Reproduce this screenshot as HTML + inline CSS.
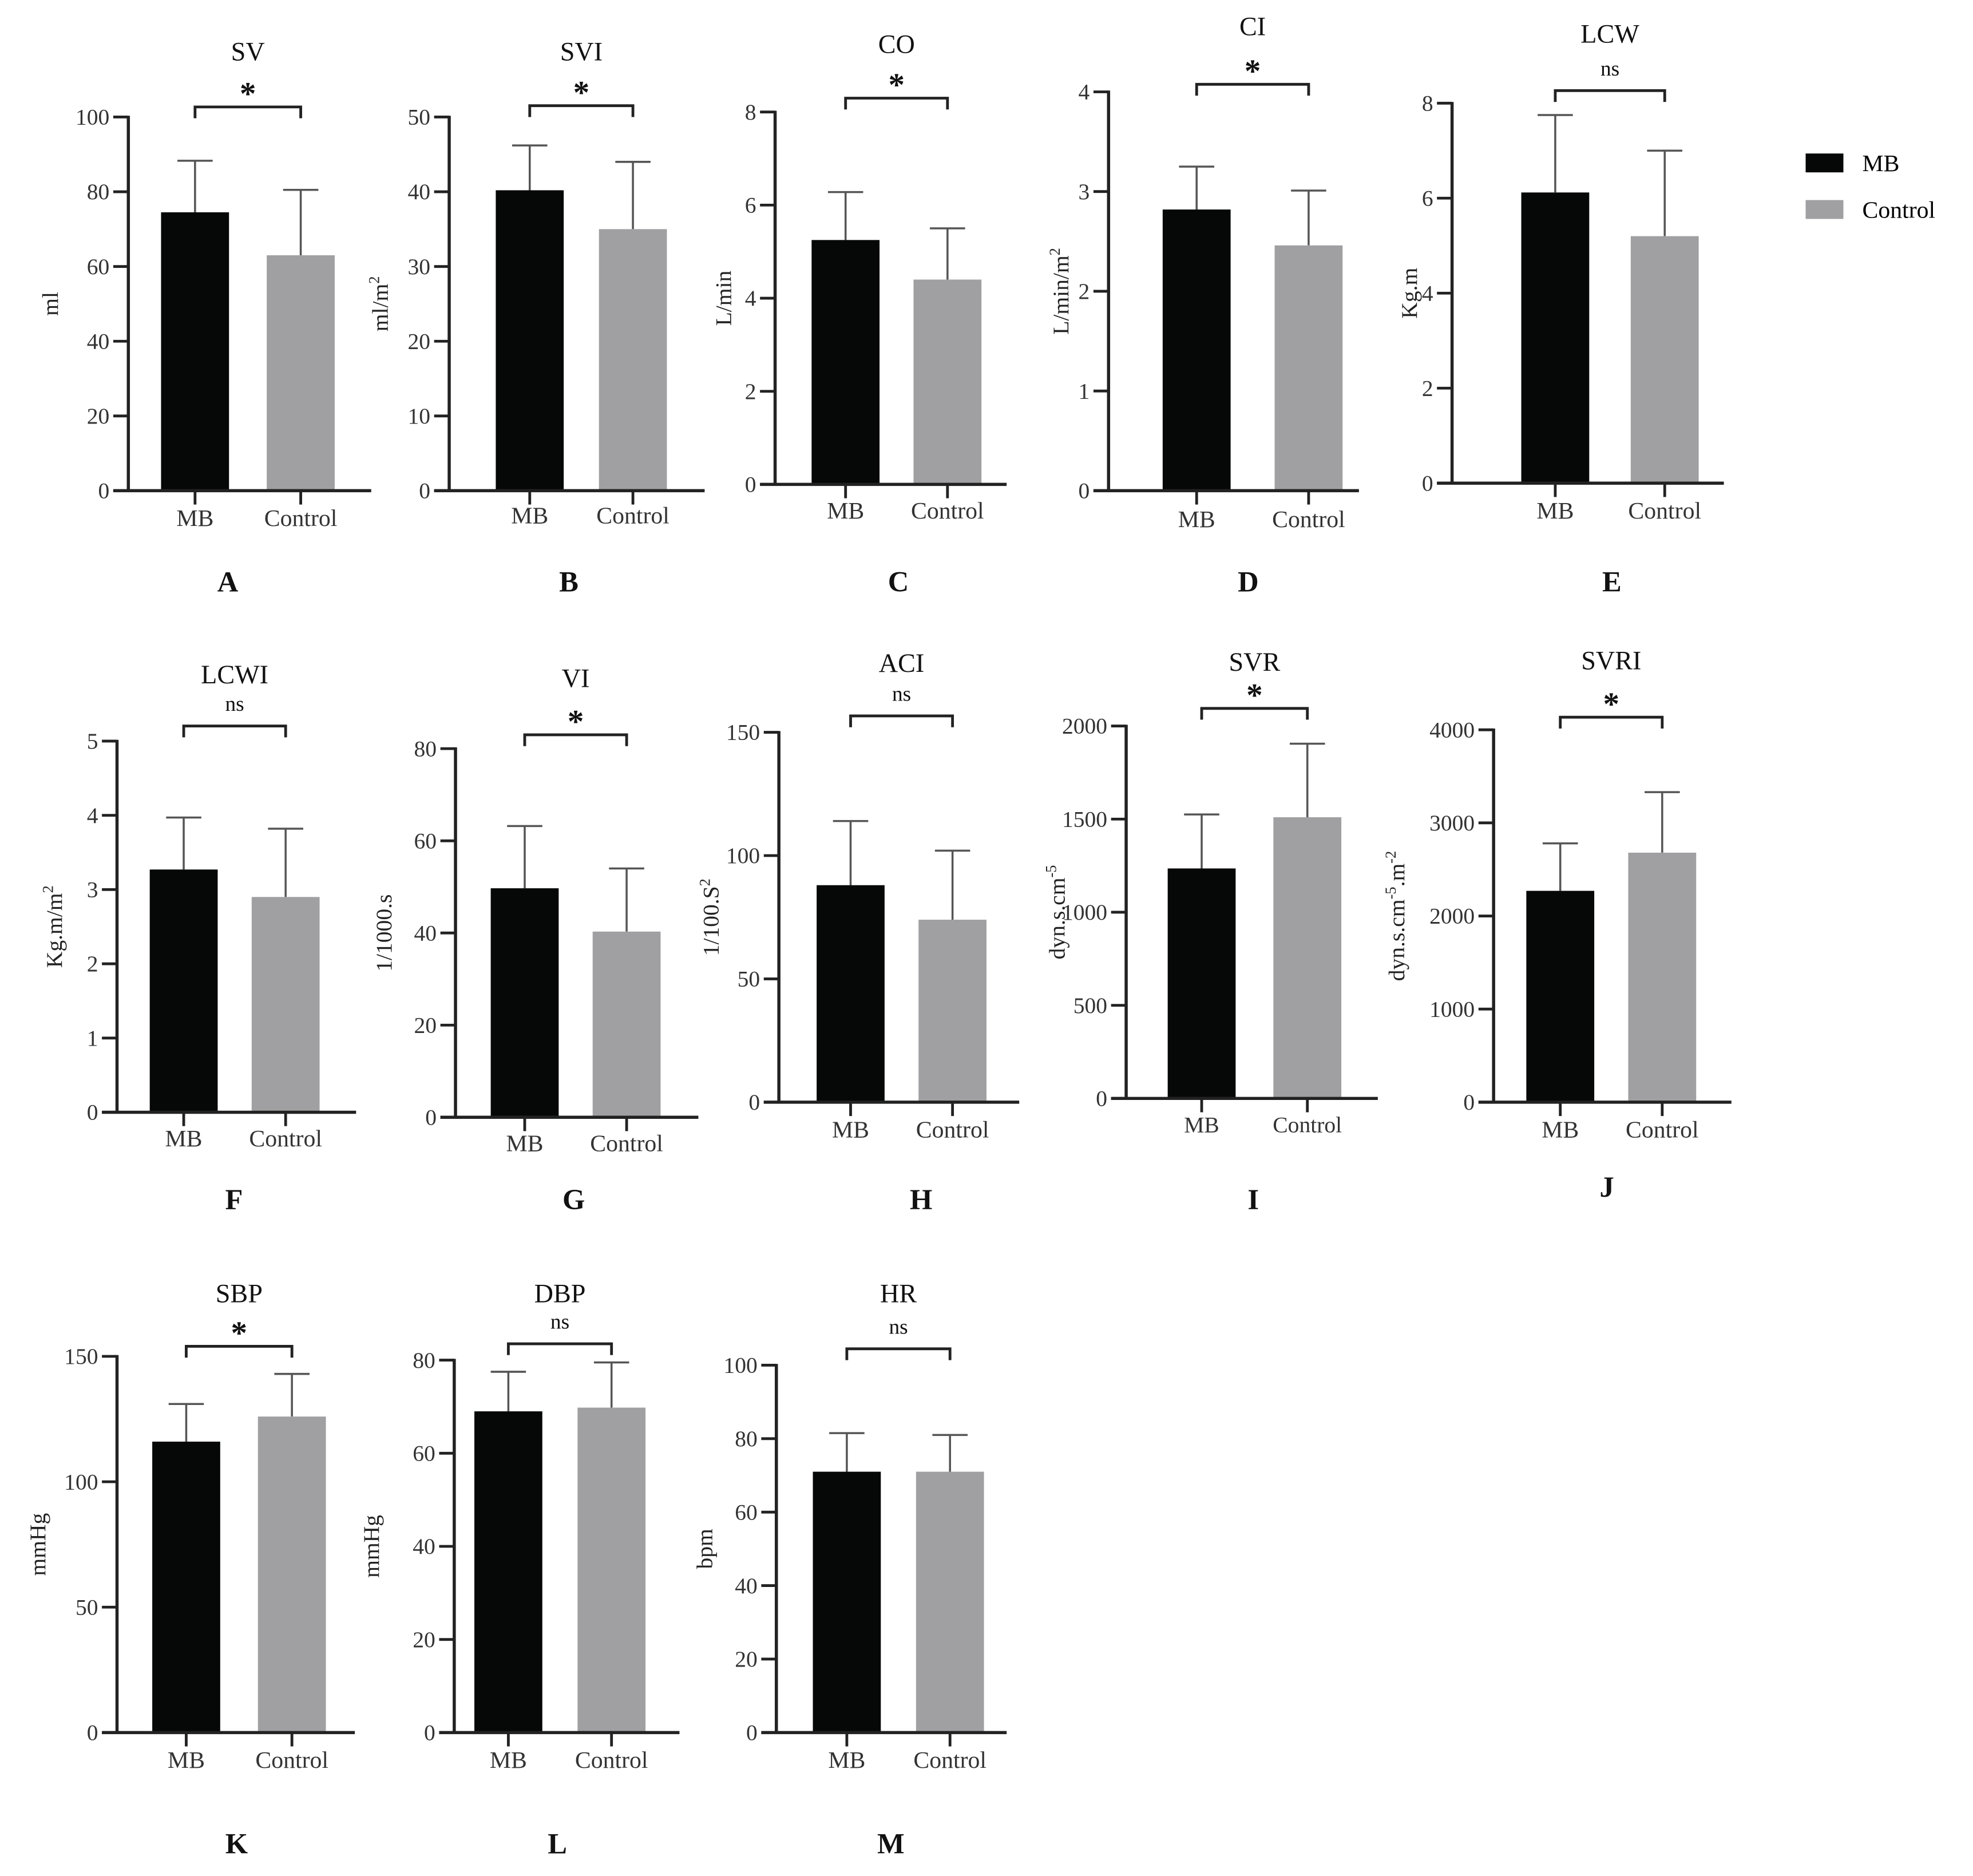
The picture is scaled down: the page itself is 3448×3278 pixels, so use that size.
<!DOCTYPE html>
<html><head><meta charset="utf-8"><style>
html,body{margin:0;padding:0;background:#fff}
svg{display:block}
text{font-family:"Liberation Serif",serif}
</style></head><body>
<svg id="fig" width="3448" height="3278" viewBox="0 0 1568 1491" preserveAspectRatio="none" xmlns="http://www.w3.org/2000/svg">
<g>
<rect x="1435" y="122" width="30" height="15" fill="#060807"/>
<text x="1480" y="136" font-size="19" font-family="Liberation Sans, sans-serif">MB</text>
<rect x="1435" y="159" width="30" height="15" fill="#a0a0a2"/>
<text x="1480" y="173" font-size="19" font-family="Liberation Sans, sans-serif">Control</text>
</g>
</svg>
<script>
const titles=["SV","SVI","CO","CI","LCW","LCWI","VI","ACI","SVR","SVRI","SBP","DBP","HR"];
const letters=["A","B","C","D","E","F","G","H","I","J","K","L","M"];
const sig=["*","*","*","*","ns","ns","*","ns","*","*","*","ns","ns"];
const yMax=[100,50,8,4,8,5,80,150,2000,4000,150,80,100];
const yStep=[20,10,2,1,2,1,20,50,500,1000,50,20,20];
const mbMean=[74.5,40.2,5.25,2.82,6.12,3.27,49.7,88,1235,2270,116,69,71];
const mbErr=[88.3,46.2,6.28,3.25,7.75,3.97,63.2,114,1525,2780,131,77.5,81.5];
const ctrlMean=[63,35,4.4,2.46,5.2,2.9,40.3,74,1510,2680,126,69.8,71];
const ctrlErr=[80.5,44,5.5,3.01,7.0,3.82,54,102,1905,3330,143,79.5,81];
const units=["ml","ml/m|2","L/min","L/min/m|2","Kg.m","Kg.m/m|2","1/1000.s","1/100.S|2","dyn.s.cm|-5","dyn.s.cm|-5|.m|-2","mmHg","mmHg","bpm"];
// layout: axisX, topY, zeroY, endX, mbX, ctrlX, titleY, bracketY, labelY, letterX, letterY, unitX
const layout=[
[102,93,390,295,155,239,48,85,423,181,470,40],
[357,93,390,560,421,503,48,84,421,452,470,302],
[616,89,385,800,672,753,42,78,417,714,470,575],
[881,73,390,1080,951,1040,28,67,424,992,470,843],
[1154,82,384,1370,1236,1323,34,72,417,1281,470,1120],
[93,589,884,283,146,227,543,577,916,186,961,43],
[362,595,888,555,417,498,546,584,920,456,961,305],
[619,582,876,810,676,757,534,569,909,732,961,565],
[895,577,873,1095,955,1039,533,563,905,996,961,840],
[1187,580,876,1376,1240,1321,532,570,909,1277,951,1110],
[93,1078,1377,282,148,232,1035,1070,1410,188,1473,30],
[361,1081,1377,540,404,486,1035,1068,1410,443,1473,295],
[617,1085,1377,800,673,755,1035,1072,1410,708,1473,560]];
const NS="http://www.w3.org/2000/svg";
const svg=document.getElementById('fig');
function mk(tag,attrs,parent){const e=document.createElementNS(NS,tag);for(const k in attrs)e.setAttribute(k,attrs[k]);parent.appendChild(e);return e;}
titles.forEach((t,i)=>{
  const L=layout[i];const [ax,top,zero,endX,mbX,ctX,tY,bY,lY,lX,ltY,uX]=L;
  const sy=v=>zero-(v/yMax[i])*(zero-top);
  const g=mk('g',{},svg);
  
  
  const sans=(i===8);
  const bw=27;
  [[mbX,mbMean[i],mbErr[i],'#060807','mb'],[ctX,ctrlMean[i],ctrlErr[i],'#a0a0a2','control']].forEach(b=>{
    const [cx,m,e,col,nm]=b;
    const el=mk('line',{x1:cx,x2:cx,y1:sy(m),y2:sy(e),stroke:'#555','stroke-width':1.6},g);
    
    
    const cap=mk('line',{x1:cx-14,x2:cx+14,y1:sy(e),y2:sy(e),stroke:'#555','stroke-width':1.6},g);
    
    
    const r=mk('rect',{x:cx-bw,y:sy(m),width:bw*2,height:zero-sy(m),fill:col},g);
    
    
  });
  const ya=mk('line',{x1:ax,x2:ax,y1:top-1,y2:zero+1,stroke:'#222','stroke-width':2.5},g);
  
  
  const xa=mk('line',{x1:ax-12,x2:endX,y1:zero,y2:zero,stroke:'#222','stroke-width':2.5},g);
  
  
  for(let v=0;v<=yMax[i]+1e-9;v+=yStep[i]){
    const y=sy(v);
    const tk=mk('line',{x1:ax-12,x2:ax,y1:y,y2:y,stroke:'#222','stroke-width':2.2},g);
    
    
    const tl=mk('text',{x:ax-15,y:y+6,'text-anchor':'end','font-size':18,fill:'#333'},g);
    tl.textContent=String(v);
    
    
  }
  [[mbX,'MB'],[ctX,'Control']].forEach(c=>{
    const tk=mk('line',{x1:c[0],x2:c[0],y1:zero,y2:zero+11,stroke:'#222','stroke-width':2.2},g);
    
    
    const tl=mk('text',{x:c[0],y:lY-5,'text-anchor':'middle','font-size':sans?18:19,fill:'#333'},g);
    if(sans)tl.setAttribute('font-family','Liberation Sans, sans-serif');
    tl.textContent=c[1];
    
    
  });
  const tt=mk('text',{x:(mbX+ctX)/2,y:tY,'text-anchor':'middle','font-size':21,fill:'#111'},g);
  tt.textContent=t;
  
  
  const br=mk('path',{d:`M${mbX},${bY+9}V${bY}H${ctX}V${bY+9}`,fill:'none',stroke:'#222','stroke-width':2.2},g);
  
  
  const st=mk('text',{x:(mbX+ctX)/2,y:sig[i]==='*'?bY-6:bY-12,'text-anchor':'middle','font-size':sig[i]==='*'?26:17,'font-weight':sig[i]==='*'?'bold':'normal',fill:'#111'},g);
  if(sig[i]==='*'){st.setAttribute('font-family','Liberation Sans, sans-serif');st.setAttribute('y',bY-2);}
  st.textContent=sig[i];
  
  
  const cy=(top+zero)/2;
  const ul=mk('text',{x:0,y:0,transform:`translate(${uX+6},${cy}) rotate(-90)`,'text-anchor':'middle','font-size':18,fill:'#222'},g);
  const parts=units[i].split('|');
  parts.forEach((p,k)=>{const ts=mk('tspan',{},ul);ts.textContent=p;
    if(k%2===1){ts.setAttribute('baseline-shift','super');ts.setAttribute('font-size',12);}
  });
  
  
  const lt=mk('text',{x:lX,y:ltY,'text-anchor':'middle','font-size':23,'font-weight':'bold',fill:'#111'},g);
  lt.textContent=letters[i];
  
  
});
</script>
</body></html>
